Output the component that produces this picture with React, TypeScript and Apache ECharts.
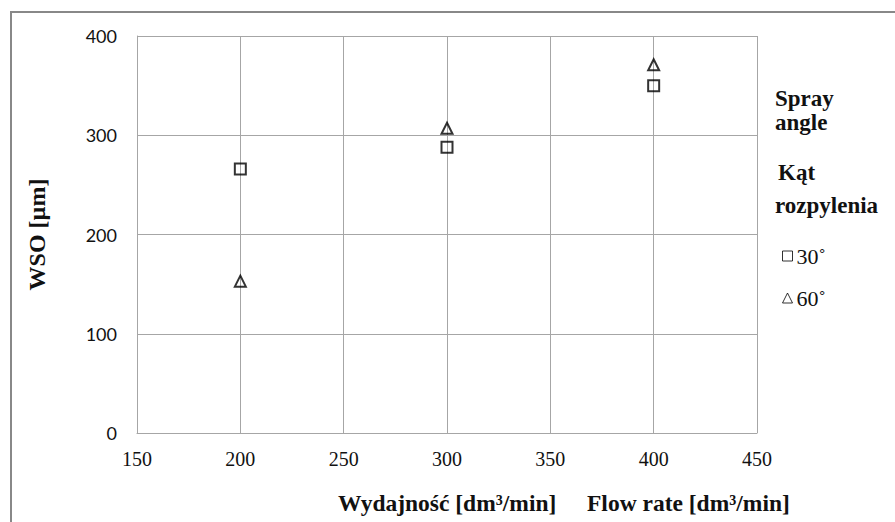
import React, { useEffect, useRef } from "react";
import * as echarts from "echarts";

const flowRates = [200, 300, 400];
const wso30 = [266, 288, 350];
const wso60 = [153, 307, 371];
const seriesNames = ["30˚", "60˚"];
const xTicks = { min: 150, max: 450, interval: 50 };
const yTicks = { min: 0, max: 400, interval: 100 };

const SERIF = "Liberation Serif";
const SANS = "Lato";
const GRID_COLOR = "#a6a6a6";
const TEXT_COLOR = "#111";

export default function App() {
  const ref = useRef<HTMLDivElement>(null);
  useEffect(() => {
    if (!ref.current) return;
    const chart = echarts.init(ref.current, null, { renderer: "svg" });
    const markerStyle = { color: "transparent", borderColor: "#000", borderWidth: 2 };
    const boldText = (text: string, x: number, y: number, size: number, lineHeight?: number) => ({
      type: "text",
      x,
      y,
      style: {
        text,
        fontFamily: SERIF,
        fontWeight: "bold",
        fontSize: size,
        lineHeight: lineHeight ?? size,
        fill: TEXT_COLOR,
        align: "left",
        verticalAlign: "middle",
      },
    });
    chart.setOption({
      animation: false,
      backgroundColor: "#fff",
      grid: { left: 137, top: 36, width: 620, height: 397, containLabel: false },
      xAxis: {
        type: "value",
        min: xTicks.min,
        max: xTicks.max,
        interval: xTicks.interval,
        axisLine: { show: true, lineStyle: { color: GRID_COLOR, width: 1 } },
        axisTick: { show: false },
        axisLabel: { color: TEXT_COLOR, fontFamily: SERIF, fontSize: 20, margin: 16 },
        splitLine: { show: true, lineStyle: { color: GRID_COLOR, width: 1 } },
      },
      yAxis: {
        type: "value",
        min: yTicks.min,
        max: yTicks.max,
        interval: yTicks.interval,
        name: "WSO [µm]",
        nameLocation: "middle",
        nameGap: 88,
        nameTextStyle: { fontFamily: SERIF, fontWeight: "bold", fontSize: 24, color: TEXT_COLOR },
        axisLine: { show: true, lineStyle: { color: GRID_COLOR, width: 1 } },
        axisTick: { show: false },
        axisLabel: { color: TEXT_COLOR, fontFamily: SANS, fontSize: 18, margin: 20 },
        splitLine: { show: true, lineStyle: { color: GRID_COLOR, width: 1 } },
      },
      legend: {
        orient: "vertical",
        left: 777,
        top: 240,
        itemWidth: 10,
        itemHeight: 10,
        itemGap: 20,
        textStyle: { fontFamily: SERIF, fontSize: 22, color: TEXT_COLOR, lineHeight: 22, padding: [0, 0, 0, -1] },
        data: [
          { name: seriesNames[0], icon: "rect", itemStyle: { color: "transparent", borderColor: "#000", borderWidth: 1 } },
          { name: seriesNames[1], icon: "triangle", itemStyle: { color: "transparent", borderColor: "#000", borderWidth: 1 } },
        ],
      },
      series: [
        {
          name: seriesNames[0],
          type: "scatter",
          symbol: "rect",
          symbolSize: 11,
          itemStyle: markerStyle,
          data: flowRates.map((x, i) => [x, wso30[i]]),
        },
        {
          name: seriesNames[1],
          type: "scatter",
          symbol: "triangle",
          symbolSize: 11,
          itemStyle: markerStyle,
          data: flowRates.map((x, i) => [x, wso60[i]]),
        },
      ],
      graphic: [
        {
          type: "rect",
          shape: { x: 11, y: 12, width: 900, height: 600 },
          style: { fill: "none", stroke: "#888", lineWidth: 2 },
          silent: true,
        },
        boldText("Wydajność [dm³/min]", 338, 503, 23.5),
        boldText("Flow rate [dm³/min]", 587, 503, 23.5),
        boldText("Spray\nangle", 775, 110, 23, 24),
        boldText("Kąt", 778, 172, 23),
        boldText("rozpylenia", 775, 205, 23),
      ],
    });
    return () => chart.dispose();
  }, []);
  return (
    <div
      ref={ref}
      style={{ position: "fixed", left: 0, top: 0, width: 895, height: 522, background: "#fff" }}
    />
  );
}
